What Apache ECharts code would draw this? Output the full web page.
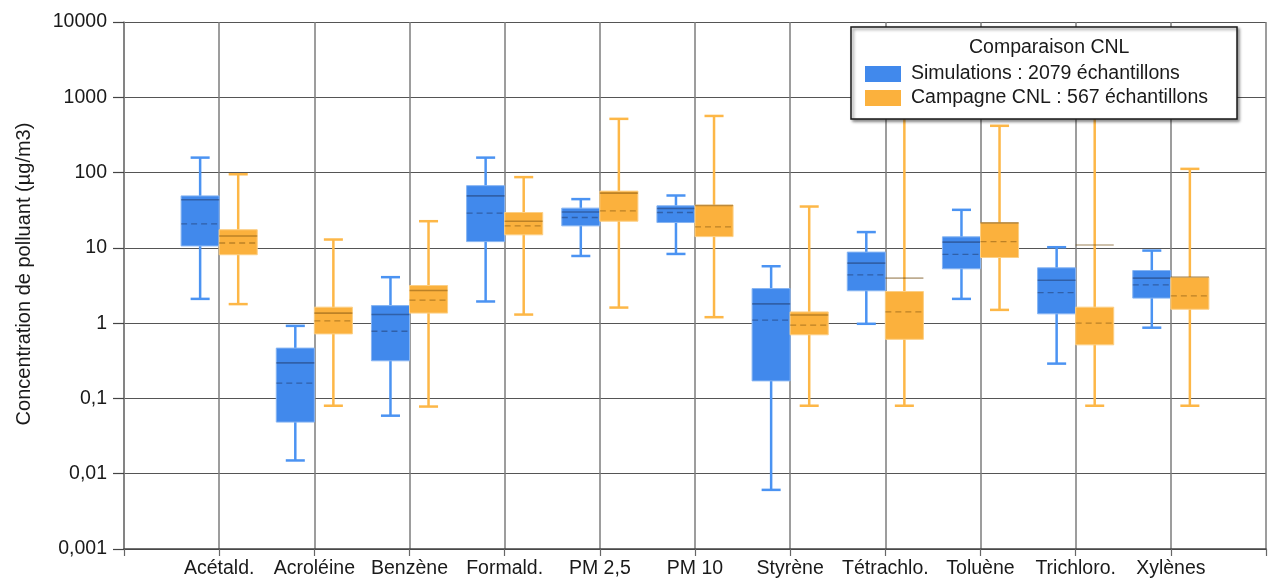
<!DOCTYPE html>
<html><head><meta charset="utf-8">
<script src="https://cdn.jsdelivr.net/npm/echarts@6/dist/echarts.min.js"></script>
<style>html,body{margin:0;padding:0;background:#fff}#c{width:1269px;height:579px}</style>
</head><body><div id="c"></div>
<script>
// ---- data ----
const categories = ['Acétald.', 'Acroléine', 'Benzène', 'Formald.', 'PM 2,5', 'PM 10', 'Styrène', 'Tétrachlo.', 'Toluène', 'Trichloro.', 'Xylènes'];
const yTickLabels = ['0,001', '0,01', '0,1', '1', '10', '100', '1000', '10000'];
const seriesNames = ['Simulations : 2079 échantillons', 'Campagne CNL : 567 échantillons'];

const simLow    = [2.1, 0.015, 0.059, 1.94, 7.8, 8.3, 0.0061, 0.98, 2.1, 0.29, 0.87];
const simQ1     = [10.6, 0.0485, 0.316, 12.1, 19.6, 21.7, 0.171, 2.69, 5.27, 1.33, 2.15];
const simMedian = [43.5, 0.297, 1.30, 49, 29.9, 33.3, 1.8, 6.27, 11.9, 3.72, 3.96];
const simMean   = [20.8, 0.16, 0.78, 28.9, 25.3, 29.5, 1.1, 4.38, 8.2, 2.55, 3.23];
const simQ3     = [49, 0.466, 1.71, 67, 33.7, 36.2, 2.88, 8.78, 14, 5.43, 5.0];
const simHigh   = [158, 0.92, 4.08, 158, 44.4, 49.6, 5.7, 16.2, 32, 10.2, 9.2];

const cnlLow    = [1.79, 0.08, 0.078, 1.3, 1.61, 1.2, 0.08, 0.08, 1.5, 0.08, 0.08];
const cnlQ1     = [8.1, 0.72, 1.36, 14.9, 22.6, 14.1, 0.70, 0.61, 7.44, 0.515, 1.53];
const cnlMedian = [14.4, 1.36, 2.71, 22.6, 53.3, 36.5, 1.28, 3.96, 21.5, 10.9, 4.1];
const cnlMean   = [11.6, 1.07, 2.02, 19.6, 31, 19, 0.94, 1.41, 12.1, 1.0, 2.3];
const cnlQ3     = [17.4, 1.63, 3.16, 29.5, 56.7, 37, 1.41, 2.63, 21.5, 1.63, 4.05];
const cnlHigh   = [95, 12.9, 22.6, 87, 517, 565, 35.4, 1800, 418, 1800, 112];

// ---- build ----
const FONT = '"Liberation Sans", Arial, sans-serif';
const xData = [''].concat(categories, ['']);

function rows(low, q1, med, mean, q3, high) {
  return categories.map((c, i) => [i + 1, low[i], q1[i], med[i], mean[i], q3[i], high[i]]);
}

function makeRender(side, st) {
  return function (params, api) {
    const xi = api.value(0);
    const band = api.size([1, 0])[0];
    const bw = band * 0.4;
    const cw = band * 0.2;
    const cx = api.coord([xi, api.value(3)])[0];
    const x0 = side < 0 ? cx - bw : cx;
    const xc = x0 + bw / 2;
    const y = k => api.coord([xi, api.value(k)])[1];
    const yLow = y(1), yQ1 = y(2), yMed = y(3), yMean = y(4), yQ3 = y(5), yHigh = y(6);
    const ws = { stroke: st.whisker, lineWidth: 2.5 };
    return {
      type: 'group',
      children: [
        { type: 'line', shape: { x1: xc, y1: yHigh, x2: xc, y2: yLow }, style: ws },
        { type: 'line', shape: { x1: xc - cw / 2, y1: yHigh, x2: xc + cw / 2, y2: yHigh }, style: ws },
        { type: 'line', shape: { x1: xc - cw / 2, y1: yLow, x2: xc + cw / 2, y2: yLow }, style: ws },
        { type: 'rect', shape: { x: x0, y: yQ3, width: bw, height: yQ1 - yQ3 },
          style: { fill: st.fill, stroke: st.edge, lineWidth: 1 } },
        { type: 'line', shape: { x1: x0, y1: yMed, x2: x0 + bw, y2: yMed },
          style: { stroke: st.median, lineWidth: 1.6 } },
        { type: 'line', shape: { x1: x0, y1: yMean, x2: x0 + bw, y2: yMean },
          style: { stroke: st.median, lineWidth: 1.3, lineDash: [6, 4] } }
      ]
    };
  };
}

const blueSt = { fill: '#4189EC', edge: '#86b4f2', whisker: '#4b93f2', median: 'rgba(20,30,60,0.38)' };
const orangeSt = { fill: '#FBB13D', edge: '#fccf85', whisker: '#FDB747', median: 'rgba(110,70,10,0.45)' };

const option = {
  animation: false,
  backgroundColor: '#fff',
  textStyle: { fontFamily: FONT },
  grid: { left: 124, right: 0, top: 22, bottom: 30, containLabel: false },
  title: {
    text: 'Comparaison CNL', left: 964, top: 33, padding: 5,
    textStyle: { fontFamily: FONT, fontSize: 19.5, fontWeight: 'normal', color: '#1a1a1a' }
  },
  legend: {
    orient: 'vertical', left: 851, top: 27,
    padding: [37, 29, 11, 14],
    itemWidth: 36, itemHeight: 16, itemGap: 4,
    icon: 'rect', selectedMode: false,
    data: seriesNames,
    backgroundColor: '#fff', borderColor: '#1a1a1a', borderWidth: 1.5,
    shadowColor: 'rgba(0,0,0,0.45)', shadowBlur: 3, shadowOffsetX: 2, shadowOffsetY: 2,
    textStyle: { fontFamily: FONT, fontSize: 19.5, color: '#1a1a1a', lineHeight: 20, padding: [0, 0, 0, 5] }
  },
  xAxis: {
    type: 'category', data: xData, boundaryGap: false,
    axisLine: { show: true, lineStyle: { color: '#444', width: 1.5 } },
    axisTick: { show: true, length: 7, interval: 0, lineStyle: { color: '#666', width: 1.2 } },
    axisLabel: { interval: 0, margin: 10, fontFamily: FONT, fontSize: 19.5, color: '#1a1a1a' },
    splitLine: { show: true, interval: 0, lineStyle: { color: '#7d7d7d', width: 1.5 } }
  },
  yAxis: {
    type: 'log', logBase: 10, min: 0.001, max: 10000,
    name: 'Concentration de polluant (µg/m3)', nameLocation: 'middle', nameGap: 90,
    nameTextStyle: { fontFamily: FONT, fontSize: 20, color: '#1a1a1a', padding: [0, 0, 0, 23] },
    axisLine: { show: true, lineStyle: { color: '#7d7d7d', width: 1.5 } },
    axisTick: { show: true, length: 11, lineStyle: { color: '#444', width: 1.2 } },
    axisLabel: {
      margin: 17, fontFamily: FONT, fontSize: 19.5, color: '#1a1a1a',
      formatter: v => yTickLabels[Math.round(Math.log10(v)) + 3]
    },
    splitLine: { show: true, lineStyle: { color: '#555', width: 1.2 } }
  },
  series: [
    {
      name: seriesNames[0], type: 'custom', itemStyle: { color: blueSt.fill },
      renderItem: makeRender(-1, blueSt),
      encode: { x: 0, y: [1, 2, 3, 4, 5, 6] },
      data: rows(simLow, simQ1, simMedian, simMean, simQ3, simHigh), z: 2
    },
    {
      name: seriesNames[1], type: 'custom', itemStyle: { color: orangeSt.fill },
      renderItem: makeRender(1, orangeSt),
      encode: { x: 0, y: [1, 2, 3, 4, 5, 6] },
      data: rows(cnlLow, cnlQ1, cnlMedian, cnlMean, cnlQ3, cnlHigh), z: 2
    }
  ]
};
echarts.init(document.getElementById('c'), null, { renderer: 'canvas' }).setOption(option);
</script>
</body></html>
